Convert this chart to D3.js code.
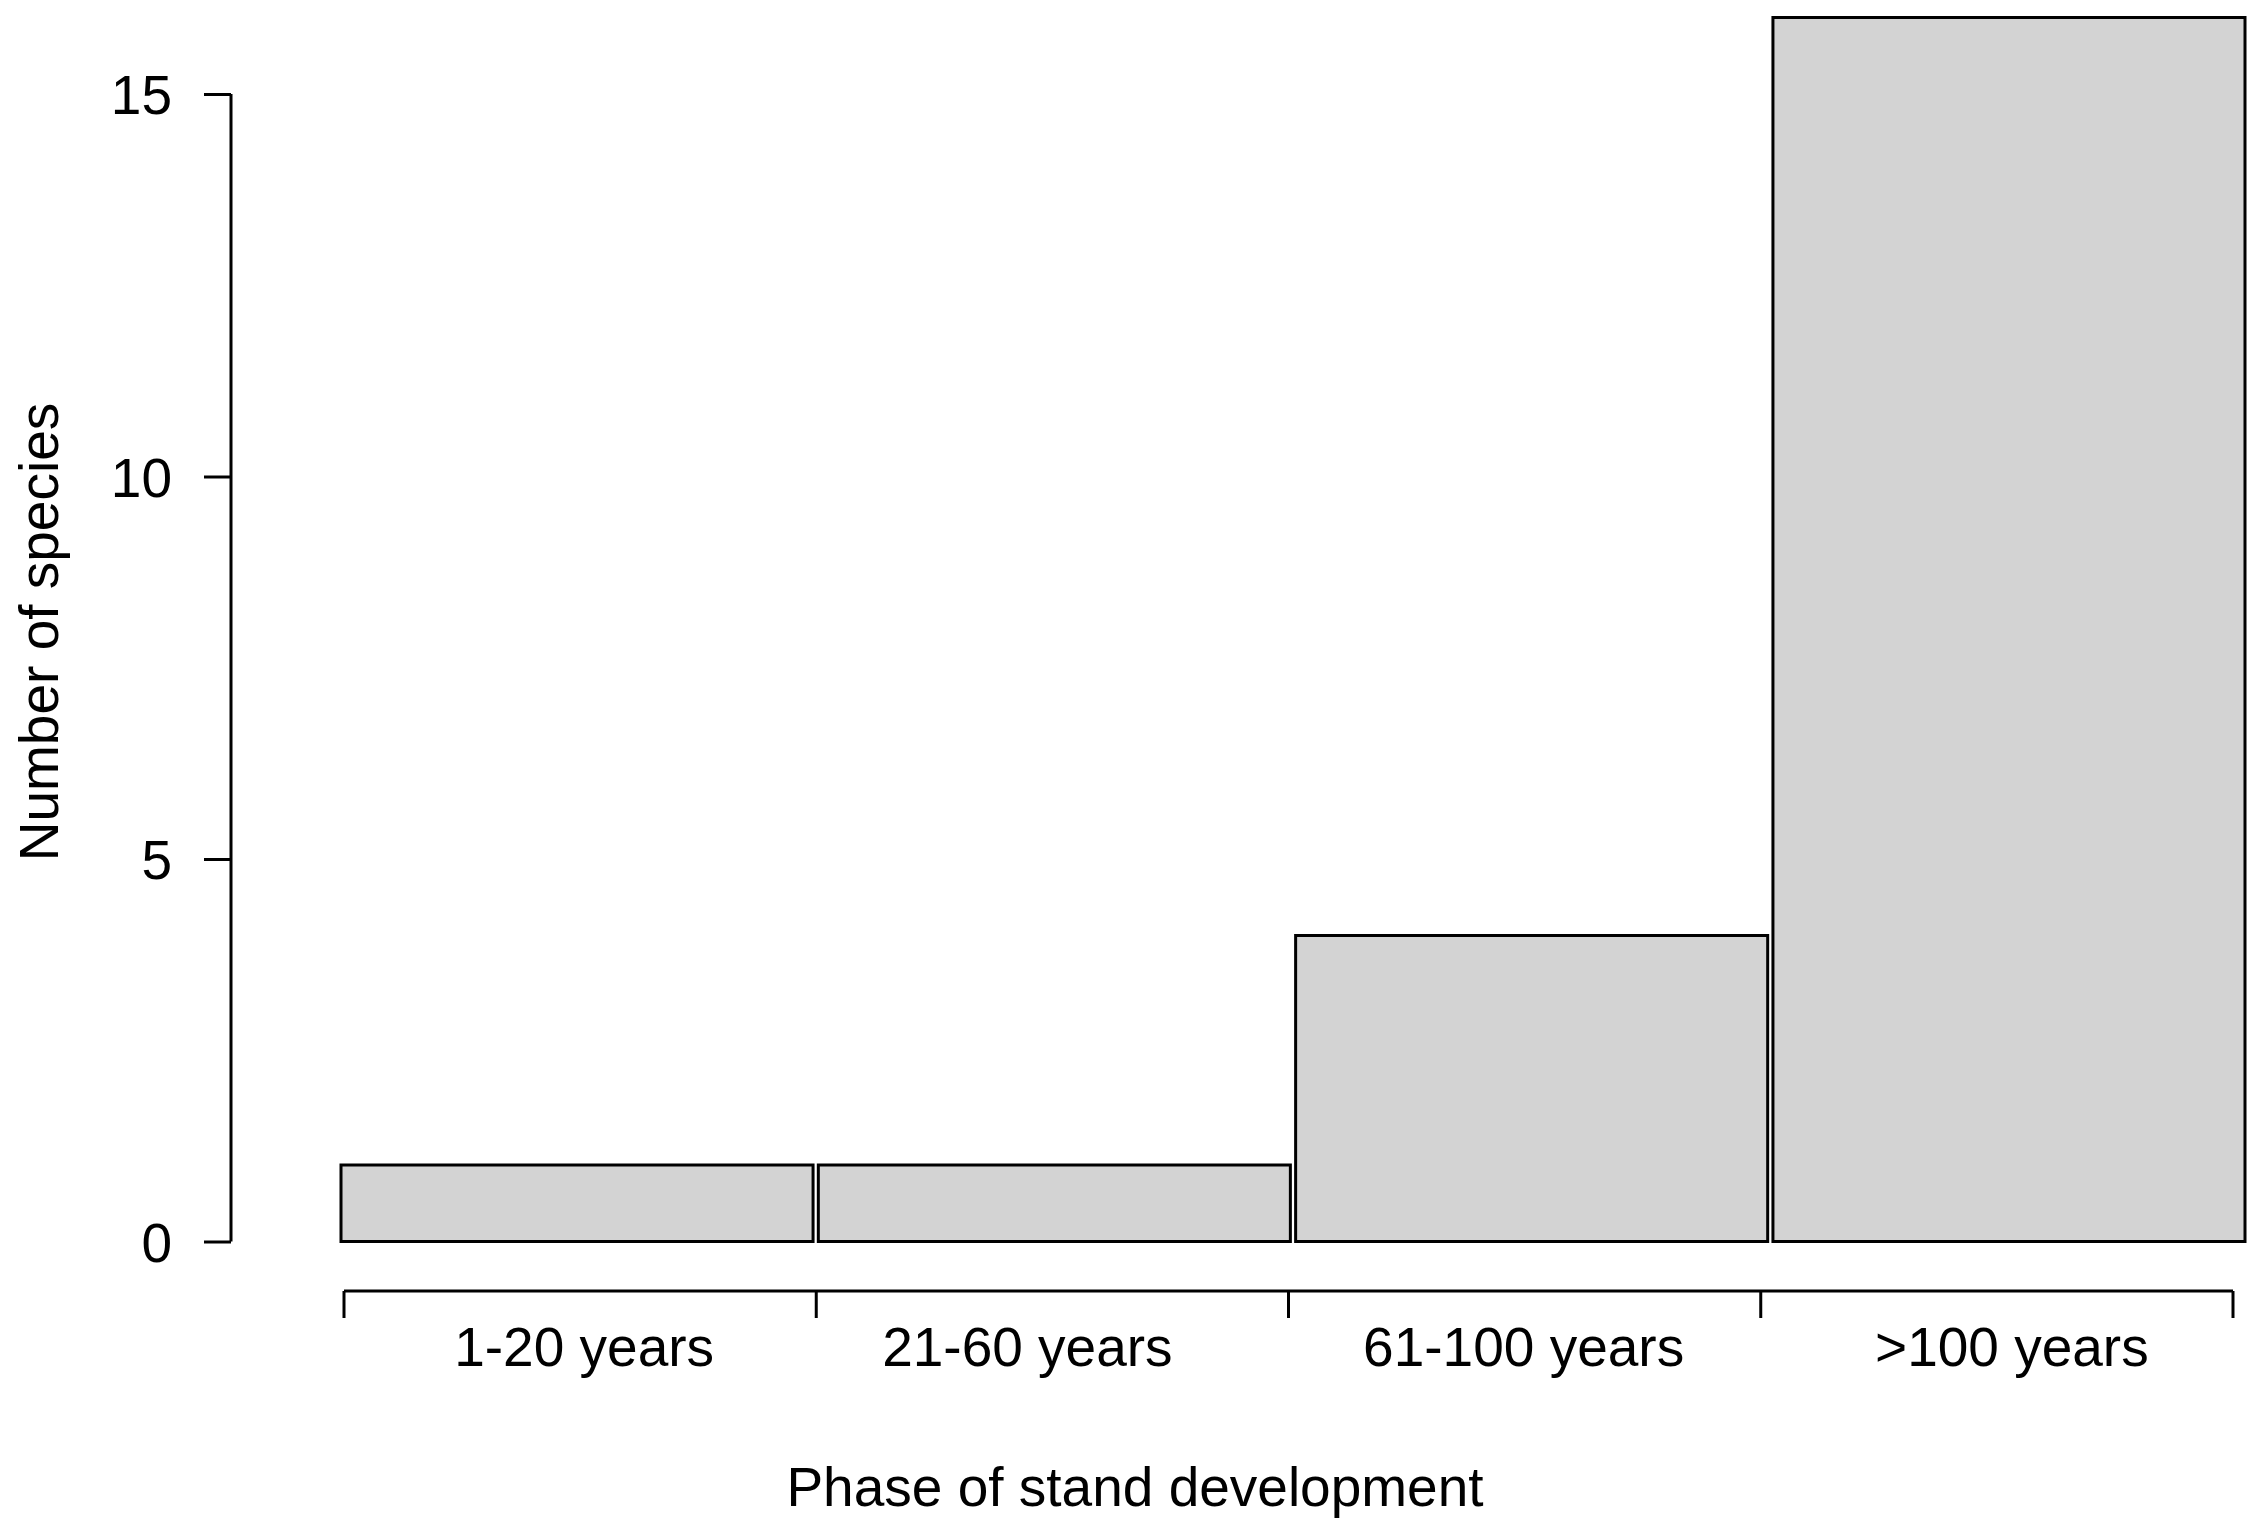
<!DOCTYPE html>
<html>

<head>
    <title>Number of species by phase of stand development</title>
    <script src="https://cdn.jsdelivr.net/npm/d3@7"></script>
    <style>
        body { margin: 0; background: #fff; }
        text { font-family: "Liberation Sans", Arial, sans-serif; fill: #000; }
    </style>
</head>

<body>
    <svg width="2262" height="1534" id="mainsvg"></svg>
    <script>
        // data
        const phases = ['1-20 years', '21-60 years', '61-100 years', '>100 years'];
        const speciesCount = [1, 1, 4, 16];
        const yTicks = [0, 5, 10, 15];
        // small horizontal nudges for the category labels (as placed in the original)
        const labelNudge = [4, -25, -1, 15];

        const svg = d3.select('svg');
        const width = +svg.attr('width');
        const height = +svg.attr('height');

        const fontSize = 55;
        const tickLen = 27;
        const lw = 3;

        // bars: band scale with a thin gap between bars
        const x = d3.scaleBand().domain(phases)
            .range([341, 2245]).paddingInner(0.011).paddingOuter(0);
        // y axis: 0 at the baseline, 15 at the top tick
        const y = d3.scaleLinear().domain([0, 15]).range([1241.5, 94]);
        // x axis is drawn on its own, ticks at the class boundaries
        const xAxisScale = d3.scaleLinear().domain([0, phases.length]).range([344, 2233]);

        svg.append('rect').attr('width', width).attr('height', height).attr('fill', '#fff');

        // bars
        svg.append('g').selectAll('rect').data(speciesCount).join('rect')
            .attr('x', (d, i) => x(phases[i]))
            .attr('y', d => y(d))
            .attr('width', x.bandwidth())
            .attr('height', d => y(0) - y(d))
            .attr('fill', '#d3d3d3')
            .attr('stroke', '#000')
            .attr('stroke-width', lw);

        // y axis
        const yAxis = svg.append('g').attr('transform', 'translate(231,0)')
            .call(d3.axisLeft(y).tickValues(yTicks).tickSize(tickLen).tickPadding(6).tickSizeOuter(0));
        yAxis.select('.domain').attr('stroke', '#000').attr('stroke-width', lw)
            .attr('d', `M0,${y(0)}V${y(15)}`);
        yAxis.selectAll('.tick line').attr('stroke', '#000').attr('stroke-width', lw);
        yAxis.selectAll('.tick text')
            .attr('font-size', fontSize)
            .attr('font-family', '"Liberation Sans", Arial, sans-serif')
            .attr('x', 172 - 231)
            .attr('dy', '0.36em');

        // x axis: plain line with ticks at the boundaries
        const xAxis = svg.append('g').attr('transform', 'translate(0,1291)');
        const bounds = d3.range(phases.length + 1);
        xAxis.append('line')
            .attr('x1', xAxisScale(0)).attr('x2', xAxisScale(phases.length))
            .attr('stroke', '#000').attr('stroke-width', lw);
        xAxis.selectAll('line.tick').data(bounds).join('line')
            .attr('class', 'tick')
            .attr('x1', d => xAxisScale(d)).attr('x2', d => xAxisScale(d))
            .attr('y1', 0).attr('y2', tickLen)
            .attr('stroke', '#000').attr('stroke-width', lw);
        xAxis.selectAll('text').data(phases).join('text')
            .attr('x', (d, i) => xAxisScale(i + 0.5) + labelNudge[i])
            .attr('y', 75)
            .attr('text-anchor', 'middle')
            .attr('font-size', fontSize)
            .text(d => d);

        // axis titles
        svg.append('text')
            .attr('x', 1135).attr('y', 1506)
            .attr('text-anchor', 'middle')
            .attr('font-size', fontSize)
            .text('Phase of stand development');

        svg.append('text')
            .attr('transform', 'translate(58,632) rotate(-90)')
            .attr('text-anchor', 'middle')
            .attr('font-size', fontSize)
            .text('Number of species');
    </script>
</body>

</html>
